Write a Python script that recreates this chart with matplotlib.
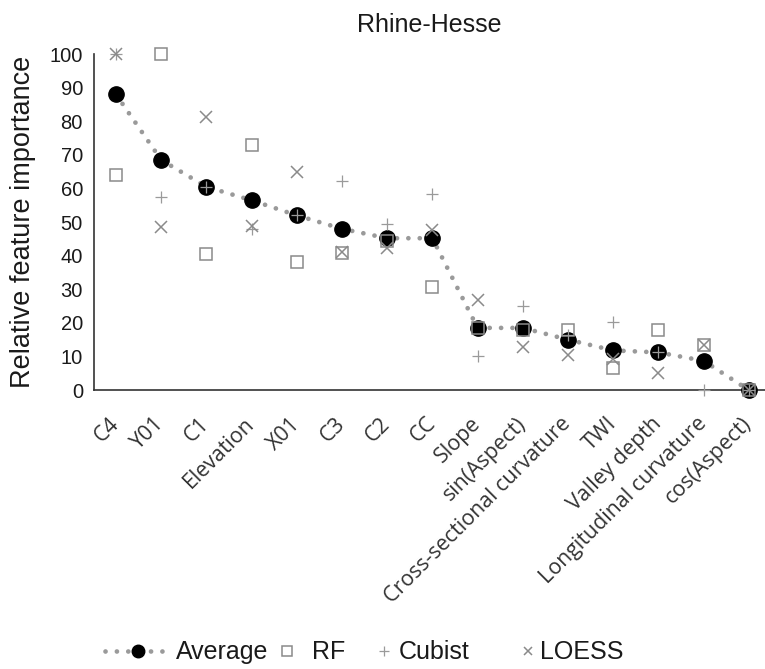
import matplotlib
matplotlib.use("Agg")
import matplotlib.pyplot as plt
import numpy as np

features = [
    "C4", "Y01", "C1", "Elevation", "X01", "C3", "C2", "CC", "Slope",
    "sin(Aspect)", "Cross-sectional curvature", "TWI", "Valley depth",
    "Longitudinal curvature", "cos(Aspect)",
]
average = [88, 68.5, 60.5, 56.5, 52, 48, 45.2, 45.2, 18.5, 18.5, 15, 11.8, 11.2, 8.7, 0]
rf = [64, 100, 40.5, 73, 38, 40.8, 44.5, 30.7, 18.5, 18, 18, 6.5, 17.8, 13.3, 0]
cubist = [100, 57.5, 60.5, 47.8, 52, 62.2, 49.4, 58.3, 10.2, 25, 16.5, 20.3, 11.2, 0, 0]
loess = [100, 48.4, 81.2, 48.7, 65, 41.2, 42.4, 47.6, 26.8, 12.8, 10.3, 9.3, 5.2, 13.3, 0]

plt.rcParams["font.family"] = ["Liberation Sans", "DejaVu Sans"]

fig = plt.figure(figsize=(7.65, 6.69), dpi=100)
ax = fig.add_axes([0.1229, 0.417, 0.8771, 0.502])

x = np.arange(len(features))
grey = "#8a8a8a"

avg_line, = ax.plot(x, average, color="#9a9a9a", linewidth=3.4,
                    linestyle=(0, (0.01, 2.4)), dash_capstyle="round",
                    marker="o", markersize=11, markerfacecolor="black",
                    markeredgecolor="black", clip_on=False, zorder=3)
rf_pts, = ax.plot(x, rf, linestyle="none", marker="s", markersize=8.6,
                  markerfacecolor="none", markeredgecolor=grey,
                  markeredgewidth=1.1, clip_on=False, zorder=4)
cub_pts, = ax.plot(x, cubist, linestyle="none", marker="+", markersize=8,
                   markeredgecolor="#9a9a9a", markeredgewidth=0.9,
                   clip_on=False, zorder=4)
loe_pts, = ax.plot(x, loess, linestyle="none", marker="x", markersize=8.5,
                   markeredgecolor=grey, markeredgewidth=1.1, clip_on=False,
                   zorder=4)

ax.set_xlim(-0.487, 14.36)
ax.set_ylim(0, 100)
ax.set_yticks(np.arange(0, 101, 10))
ax.tick_params(axis="y", length=0, pad=8, labelsize=14.5, labelcolor="#1a1a1a")
ax.tick_params(axis="x", length=0, pad=22)
ax.set_xticks(x)
ax.set_xticklabels(features, rotation=45, ha="right", va="center",
                   rotation_mode="anchor", family="Open Sans", fontsize=15.4,
                   color="#333333")

for side in ("top", "right"):
    ax.spines[side].set_visible(False)
for side in ("left", "bottom"):
    ax.spines[side].set_color("#333333")
    ax.spines[side].set_linewidth(1.2)

ax.set_ylabel("Relative feature importance", fontsize=19.5, color="#1a1a1a",
              labelpad=10)
ax.set_title("Rhine-Hesse", fontsize=18, color="#1a1a1a", pad=16)

# legend entries laid out one by one along the bottom
W = 765.0
legend_y = 0.025
entries = [
    (avg_line, "Average", 105, 2.6, 0.25, 9),
    (rf_pts, "RF", 274, 1.0, 0.5, 6.5),
    (cub_pts, "Cubist", 371, 1.0, 0.1, 6.5),
    (loe_pts, "LOESS", 515, 1.0, 0.0, 6),
]
for handle, text, left_px, hlen, hpad, msize in entries:
    leg = fig.legend([handle], [text], loc="center left",
                     bbox_to_anchor=(left_px / W, legend_y), frameon=False,
                     fontsize=18, handlelength=hlen, handletextpad=hpad,
                     borderpad=0, borderaxespad=0, numpoints=1)
    for h in leg.legend_handles:
        h.set_markersize(msize)
    for t in leg.get_texts():
        t.set_color("#1a1a1a")

fig.savefig("out.png", dpi=100)
